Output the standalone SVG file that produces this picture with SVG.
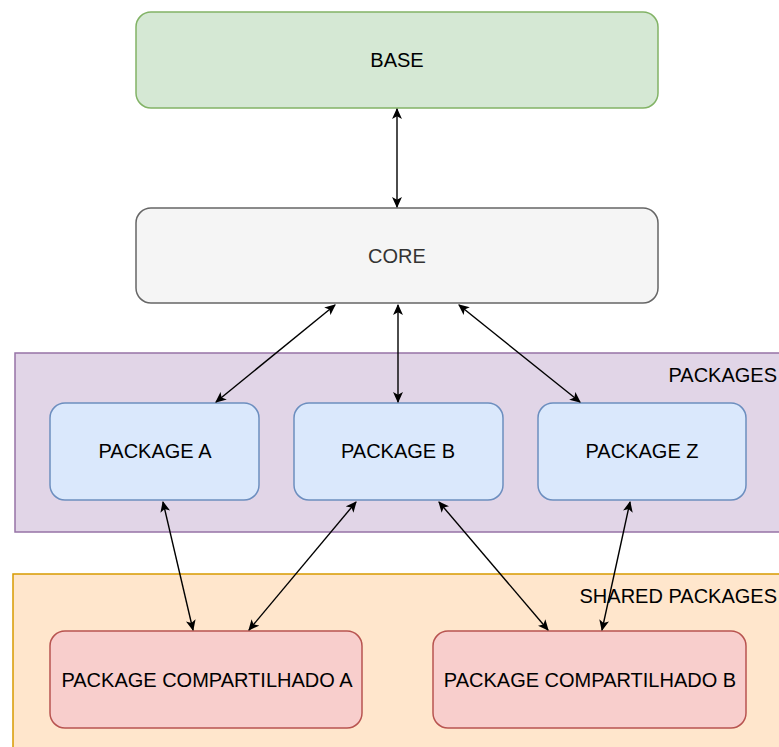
<svg xmlns="http://www.w3.org/2000/svg" width="779" height="747" viewBox="0 0 779 747">
<defs>
<marker id="arr" viewBox="0 0 10 10" refX="9" refY="5" markerWidth="11" markerHeight="11" markerUnits="userSpaceOnUse" orient="auto-start-reverse">
<path d="M0,0.5 L10,5 L0,9.5 L2.5,5 Z" fill="#000"/>
</marker>
</defs>
<style>
text{font-family:"Liberation Sans",Arial,sans-serif;font-size:20px;fill:#000;dominant-baseline:central;text-anchor:middle;}
.lbl{text-anchor:end;}
.conn{stroke:#000;stroke-width:1.4;fill:none;marker-start:url(#arr);marker-end:url(#arr);}
</style>
<rect width="779" height="747" fill="#fff"/>
<g id="packages-group">
<rect x="15" y="353" width="780" height="179" fill="#e1d5e7" stroke="#9673a6" stroke-width="1.5"/>
<text class="lbl" x="777" y="375">PACKAGES</text>
</g>
<g id="shared-group">
<rect x="13" y="574" width="790" height="190" fill="#ffe6cc" stroke="#d79b00" stroke-width="1.5"/>
<text class="lbl" x="777" y="596">SHARED PACKAGES</text>
</g>
<g id="base">
<rect x="136" y="12" width="522" height="96" rx="15" fill="#d5e8d4" stroke="#82b366" stroke-width="1.5"/>
<text x="397" y="60">BASE</text>
</g>
<g id="core">
<rect x="136" y="208" width="522" height="95" rx="15" fill="#f5f5f5" stroke="#666666" stroke-width="1.5"/>
<text x="397" y="256" style="fill:#333333">CORE</text>
</g>
<g id="package-a">
<rect x="50" y="403" width="209" height="97" rx="15" fill="#dae8fc" stroke="#6c8ebf" stroke-width="1.5"/>
<text x="155" y="451">PACKAGE A</text>
</g>
<g id="package-b">
<rect x="294" y="403" width="209" height="97" rx="15" fill="#dae8fc" stroke="#6c8ebf" stroke-width="1.5"/>
<text x="398" y="451">PACKAGE B</text>
</g>
<g id="package-z">
<rect x="538" y="403" width="208" height="97" rx="15" fill="#dae8fc" stroke="#6c8ebf" stroke-width="1.5"/>
<text x="642" y="451">PACKAGE Z</text>
</g>
<g id="shared-a">
<rect x="50" y="631" width="312" height="97" rx="15" fill="#f8cecc" stroke="#b85450" stroke-width="1.5"/>
<text x="207" y="680">PACKAGE COMPARTILHADO A</text>
</g>
<g id="shared-b">
<rect x="433" y="631" width="313" height="97" rx="15" fill="#f8cecc" stroke="#b85450" stroke-width="1.5"/>
<text x="590" y="680">PACKAGE COMPARTILHADO B</text>
</g>
<g id="connectors">
<line class="conn" x1="397" y1="109" x2="397" y2="207"/>
<line class="conn" x1="335" y1="305" x2="216" y2="402"/>
<line class="conn" x1="398" y1="305" x2="398" y2="402"/>
<line class="conn" x1="459" y1="305" x2="580" y2="402"/>
<line class="conn" x1="163" y1="502" x2="193" y2="630"/>
<line class="conn" x1="356" y1="502" x2="249" y2="630"/>
<line class="conn" x1="439" y1="502" x2="548" y2="630"/>
<line class="conn" x1="630" y1="502" x2="602" y2="630"/>
</g>
</svg>
